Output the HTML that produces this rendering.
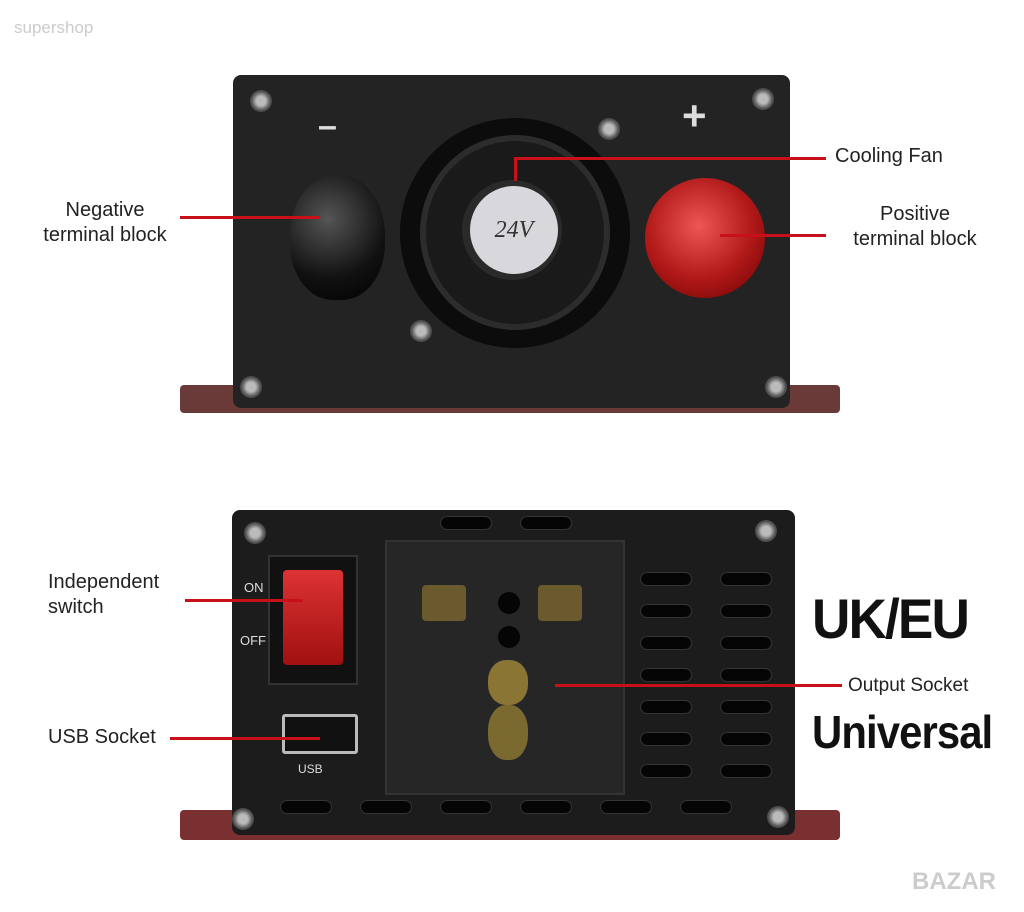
<!DOCTYPE html>
<html><head><meta charset="utf-8"><style>
*{margin:0;padding:0;box-sizing:border-box}
body{width:1024px;height:912px;background:#fff;position:relative;overflow:hidden;font-family:"Liberation Sans",sans-serif}
.a{position:absolute}
.lbl{position:absolute;color:#222;font-size:20px;line-height:25px;text-align:center}
.ln{position:absolute;background:#c8101a;height:3px}
.screw{position:absolute;width:22px;height:22px;border-radius:50%;background:radial-gradient(circle,#bbb 0 30%,#555 60%,#222)}
.vent{position:absolute;width:52px;height:14px;border-radius:7px;background:#050505;border:1px solid #333}
</style></head><body>
<div class="a" style="left:14px;top:18px;color:#ccc;font-size:17px">supershop</div>

<!-- top device -->
<div class="a" style="left:180px;top:385px;width:660px;height:28px;background:#6a3a38;border-radius:4px"></div>
<div class="a" style="left:233px;top:75px;width:557px;height:333px;background:#232323;border-radius:8px"></div>
<div class="a" style="left:318px;top:107px;color:#ddd;font-size:34px;font-weight:bold">–</div>
<div class="a" style="left:682px;top:92px;color:#ddd;font-size:42px;font-weight:bold">+</div>
<div class="a" style="left:400px;top:118px;width:230px;height:230px;border-radius:50%;background:#0c0c0c"></div>
<div class="a" style="left:420px;top:135px;width:190px;height:195px;border-radius:50%;background:#1a1a1a;border:6px solid #2c2c2c"></div>
<div class="a" style="left:462px;top:180px;width:100px;height:100px;border-radius:50%;background:#2a2a2a"></div>
<div class="a" style="left:470px;top:186px;width:88px;height:88px;border-radius:50%;background:#d8d8dc;text-align:center;line-height:88px;font-family:'Liberation Serif',serif;font-style:italic;font-size:24px;color:#333">24V</div>
<div class="a" style="left:290px;top:175px;width:95px;height:125px;border-radius:48% 48% 45% 45%;background:radial-gradient(circle at 40% 35%,#555,#111 60%,#000)"></div>
<div class="a" style="left:645px;top:178px;width:120px;height:120px;border-radius:50%;background:radial-gradient(circle at 45% 40%,#e55,#b01818 55%,#600)"></div>
<div class="screw" style="left:250px;top:90px"></div>
<div class="screw" style="left:752px;top:88px"></div>
<div class="screw" style="left:598px;top:118px"></div>
<div class="screw" style="left:410px;top:320px"></div>
<div class="screw" style="left:240px;top:376px"></div>
<div class="screw" style="left:765px;top:376px"></div>

<div class="ln" style="left:180px;top:216px;width:140px"></div>
<div class="ln" style="left:514px;top:157px;width:312px"></div>
<div class="ln" style="left:514px;top:157px;width:3px;height:24px"></div>
<div class="ln" style="left:720px;top:234px;width:106px"></div>
<div class="lbl" style="left:20px;top:198px;width:170px">Negative<br>terminal block</div>
<div class="lbl" style="left:835px;top:144px;text-align:left">Cooling Fan</div>
<div class="lbl" style="left:830px;top:202px;width:170px">Positive<br>terminal block</div>

<!-- bottom device -->
<div class="a" style="left:180px;top:810px;width:660px;height:30px;background:#7a3030;border-radius:4px"></div>
<div class="a" style="left:232px;top:510px;width:563px;height:325px;background:#1c1c1c;border-radius:8px"></div>
<div class="a" style="left:385px;top:540px;width:240px;height:255px;background:#262626;border:2px solid #333"></div>
<div class="a" style="left:422px;top:585px;width:44px;height:36px;background:#6b5a2e;border-radius:4px"></div>
<div class="a" style="left:538px;top:585px;width:44px;height:36px;background:#6b5a2e;border-radius:4px"></div>
<div class="a" style="left:498px;top:592px;width:22px;height:22px;border-radius:50%;background:#050505"></div>
<div class="a" style="left:498px;top:626px;width:22px;height:22px;border-radius:50%;background:#050505"></div>
<div class="a" style="left:488px;top:660px;width:40px;height:45px;border-radius:45%;background:#8a7535"></div>
<div class="a" style="left:488px;top:705px;width:40px;height:55px;border-radius:45%;background:#7a6a30"></div>
<div class="a" style="left:268px;top:555px;width:90px;height:130px;background:#111;border:2px solid #333"></div>
<div class="a" style="left:283px;top:570px;width:60px;height:95px;background:linear-gradient(#d33,#a01010);border-radius:4px"></div>
<div class="a" style="left:244px;top:580px;color:#ddd;font-size:13px">ON</div>
<div class="a" style="left:240px;top:633px;color:#ddd;font-size:13px">OFF</div>
<div class="a" style="left:282px;top:714px;width:76px;height:40px;background:#111;border:3px solid #bbb;border-radius:3px"></div>
<div class="a" style="left:298px;top:762px;color:#ddd;font-size:12px">USB</div>
<div class="screw" style="left:244px;top:522px"></div>
<div class="screw" style="left:755px;top:520px"></div>
<div class="screw" style="left:232px;top:808px"></div>
<div class="screw" style="left:767px;top:806px"></div>
<div class="vent" style="left:640px;top:572px"></div><div class="vent" style="left:720px;top:572px"></div>
<div class="vent" style="left:640px;top:604px"></div><div class="vent" style="left:720px;top:604px"></div>
<div class="vent" style="left:640px;top:636px"></div><div class="vent" style="left:720px;top:636px"></div>
<div class="vent" style="left:640px;top:668px"></div><div class="vent" style="left:720px;top:668px"></div>
<div class="vent" style="left:640px;top:700px"></div><div class="vent" style="left:720px;top:700px"></div>
<div class="vent" style="left:640px;top:732px"></div><div class="vent" style="left:720px;top:732px"></div>
<div class="vent" style="left:640px;top:764px"></div><div class="vent" style="left:720px;top:764px"></div>
<div class="vent" style="left:280px;top:800px"></div><div class="vent" style="left:360px;top:800px"></div>
<div class="vent" style="left:440px;top:800px"></div><div class="vent" style="left:520px;top:800px"></div>
<div class="vent" style="left:600px;top:800px"></div><div class="vent" style="left:680px;top:800px"></div>
<div class="vent" style="left:440px;top:516px"></div><div class="vent" style="left:520px;top:516px"></div>

<div class="ln" style="left:185px;top:599px;width:118px"></div>
<div class="ln" style="left:170px;top:737px;width:150px"></div>
<div class="ln" style="left:555px;top:684px;width:287px"></div>
<div class="lbl" style="left:30px;top:570px;width:170px;text-align:left;padding-left:18px">Independent<br>switch</div>
<div class="lbl" style="left:48px;top:725px;text-align:left">USB Socket</div>
<div class="lbl" style="left:848px;top:673px;text-align:left;font-size:19px">Output Socket</div>
<div class="a" style="left:812px;top:586px;font-size:56px;font-weight:bold;color:#111;letter-spacing:-2px;transform:scaleX(0.95);transform-origin:left">UK/EU</div>
<div class="a" style="left:812px;top:705px;font-size:46px;font-weight:bold;color:#111;letter-spacing:-1px;transform:scaleX(0.91);transform-origin:left">Universal</div>
<div class="a" style="left:912px;top:868px;font-size:24px;font-weight:bold;color:#ccc">BAZAR</div>
</body></html>
